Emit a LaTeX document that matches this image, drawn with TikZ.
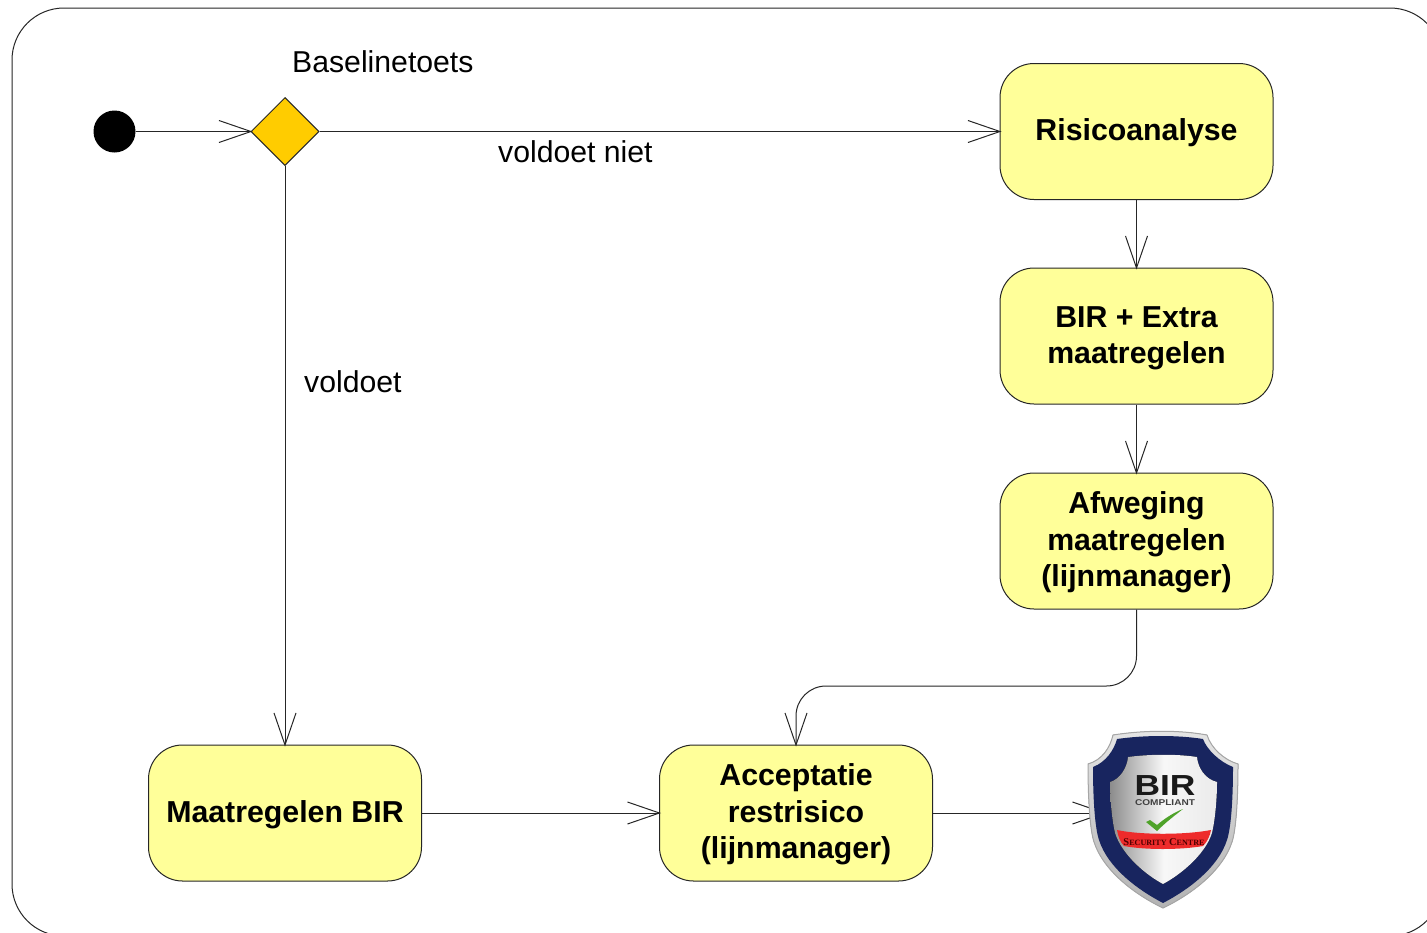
\documentclass[tikz,border=0pt]{standalone}
\usepackage{fontspec}
\setmainfont{Liberation Sans}
\newfontfamily\shieldserif{Liberation Serif}
\usetikzlibrary{arrows.meta,shapes.geometric}
\definecolor{boxfill}{HTML}{FFFF99}
\definecolor{gold}{HTML}{FFCC00}
\definecolor{navy}{HTML}{18255F}
\definecolor{bandred}{HTML}{EE2B2B}
\definecolor{tick}{HTML}{4FA32A}
\newcommand{\boxtext}[1]{\begin{tabular}{@{}c@{}}\rule{0pt}{29.5pt}#1\end{tabular}}
\newcommand{\bigsc}[1]{{\fontsize{10.4}{11}\selectfont #1}}
\newcommand{\smallsc}[1]{{\fontsize{8.1}{11}\selectfont #1}}
\tikzset{
  activity/.style={draw=black!85,line width=1pt,fill=boxfill,rounded corners=34pt,minimum width=273pt,minimum height=136pt,inner sep=0pt,font=\fontsize{30.3}{36.5}\selectfont\bfseries},
  flow/.style={draw=black!85,line width=1pt,shorten >=-2pt,-{Straight Barb[length=32pt,width=22pt,line width=1pt]}},
  lab/.style={font=\fontsize{30.2}{36}\selectfont,inner sep=0pt}
}
\begin{document}
\begin{tikzpicture}[x=1pt,y=-1pt]
\useasboundingbox (0,0) rectangle (1427,932);
\clip (0,0) rectangle (1427,932);
\fill[white] (0,0) rectangle (1427,932);
\draw[line width=1pt,rounded corners=52pt,black!85] (12,8) rectangle (1442,936);
% nodes
\node[circle,fill=black,minimum size=42pt,inner sep=0pt] (start) at (114.5,131.5) {};
\node[diamond,draw=black!85,line width=1pt,fill=gold,minimum width=68pt,minimum height=68pt,inner sep=0pt] (dec) at (285,131.5) {};
\node[activity] (risk) at (1136.5,131.5) {\boxtext{Risicoanalyse}};
\node[activity] (extra) at (1136.5,336) {\boxtext{BIR + Extra\\maatregelen}};
\node[activity] (afw) at (1136.5,541) {\boxtext{Afweging\\maatregelen\\(lijnmanager)}};
\node[activity] (bir) at (285,813) {\boxtext{Maatregelen BIR}};
\node[activity] (acc) at (796,813) {\boxtext{Acceptatie\\restrisico\\(lijnmanager)}};
\node[lab,anchor=west] (t1) at (292,62) {Baselinetoets};
\node[lab,anchor=west] (t2) at (498,152) {voldoet niet};
\node[lab,anchor=west] (t3) at (304,382) {voldoet};
\coordinate (bend) at (796,686);
\coordinate (shieldend) at (1104,813);
% connectors
\draw[flow] (start) -- (dec.west);
\draw[flow] (dec.east) -- (risk.west);
\draw[flow] (dec.south) -- (bir.north);
\draw[flow] (risk) -- (extra);
\draw[flow] (extra) -- (afw);
\draw[flow,rounded corners=30pt] (afw.south) |- (bend) -- (acc.north);
\draw[flow] (bir) -- (acc);
\draw[flow] (acc.east) -- (shieldend);
% shield
\filldraw[draw=black!35,line width=1pt,top color=black!10,bottom color=black!30]
  (1088,764) .. controls (1102,760) and (1110,748) .. (1113,735)
  .. controls (1145,730) and (1180,730) .. (1207,735)
  .. controls (1211,748) and (1224,760) .. (1238,764)
  .. controls (1238,800) and (1236,830) .. (1232,842)
  .. controls (1222,872) and (1190,895) .. (1163,908)
  .. controls (1136,895) and (1104,872) .. (1094,842)
  .. controls (1090,830) and (1088,800) .. cycle;
\fill[navy]
  (1093,767) .. controls (1106,762) and (1114,750) .. (1117,739)
  .. controls (1145,735) and (1178,735) .. (1203,739)
  .. controls (1207,750) and (1220,762) .. (1233,767)
  .. controls (1233,800) and (1231,828) .. (1227,840)
  .. controls (1218,868) and (1188,890) .. (1163,903)
  .. controls (1138,890) and (1108,868) .. (1099,840)
  .. controls (1095,828) and (1093,800) .. cycle;
\fill[left color=black!45,right color=black!8,middle color=black!3]
  (1110,782) .. controls (1120,779) and (1127,768) .. (1128,757)
  .. controls (1150,754) and (1178,754) .. (1197,757)
  .. controls (1198,768) and (1205,779) .. (1217,782)
  .. controls (1217,800) and (1215,820) .. (1212,833)
  .. controls (1205,855) and (1180,875) .. (1163,884)
  .. controls (1146,875) and (1122,855) .. (1115,833)
  .. controls (1112,820) and (1110,800) .. cycle;
\fill[bandred]
  (1117,830) .. controls (1140,835) and (1185,835) .. (1211,830)
  .. controls (1210,836) and (1207,842) .. (1203,846)
  .. controls (1180,850) and (1145,850) .. (1124,846)
  .. controls (1120,842) and (1118,836) .. cycle;
\fill[tick]
  (1146,822) -- (1150,820) -- (1157,825) .. controls (1165,818) and (1175,812) .. (1183,809)
  .. controls (1174,816) and (1165,823) .. (1157,831) -- cycle;
\node[inner sep=0pt,font=\fontsize{29}{29}\selectfont\bfseries,text=black!90] (shieldtitle) at (1165,786) {\scalebox{1.22}[1]{BIR}};
\node[inner sep=0pt,font=\fontsize{8.4}{8.4}\selectfont\bfseries,text=black!75] (shieldsub) at (1165,803) {\scalebox{1.2}[1]{COMPLIANT}};
\node[inner sep=0pt,font=\bfseries\shieldserif,text=black!70!red] (shieldband) at (1164,842) {\bigsc{S}\smallsc{ECURITY} \bigsc{C}\smallsc{ENTRE}};
\end{tikzpicture}
\end{document}
